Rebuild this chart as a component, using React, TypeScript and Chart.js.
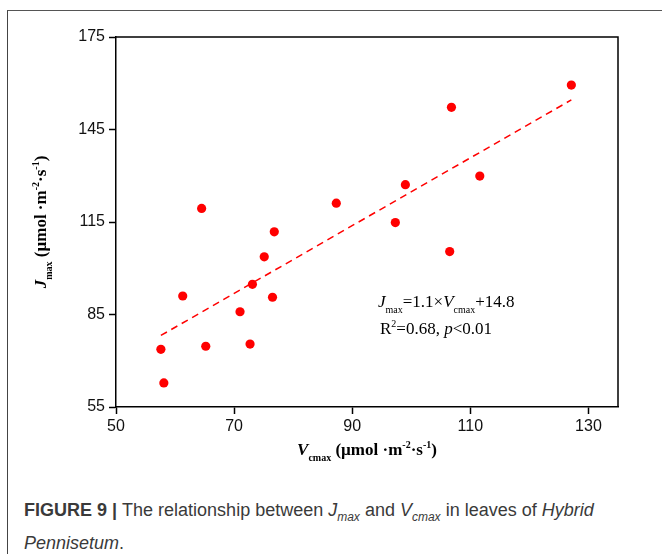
import React, { useEffect, useRef } from "react";
import { Chart, registerables } from "chart.js";
Chart.register(...registerables);

// Data
const vcmax = [57.6, 58.1, 61.3, 64.5, 65.2, 71.0, 72.7, 73.1, 75.1, 76.5, 76.8, 87.3, 97.3, 99.0, 106.5, 106.8, 111.6, 127.1];
const jmax = [73.7, 62.8, 91.0, 119.4, 74.7, 85.9, 75.4, 94.8, 103.7, 90.6, 111.8, 121.1, 114.8, 127.1, 105.4, 152.2, 129.9, 159.4];
const fitX = [57.6, 127.1];
const fitY = [78.2, 154.6];
const xTicks = [50, 70, 90, 110, 130];
const yTicks = [55, 85, 115, 145, 175];

type Seg = { t: string; it?: boolean; b?: boolean; sub?: boolean; sup?: boolean };

const SERIF = "'Liberation Serif', 'Times New Roman', serif";

function segFont(s: Seg, size: number) {
  const sz = s.sub || s.sup ? Math.round(size * 0.6) : size;
  return `${s.it ? "italic " : ""}${s.b ? "bold " : ""}${sz}px ${SERIF}`;
}

function drawRich(ctx: CanvasRenderingContext2D, segs: Seg[], x: number, y: number, size: number, align: "left" | "center") {
  ctx.save();
  ctx.textBaseline = "alphabetic";
  ctx.textAlign = "left";
  let total = 0;
  const widths = segs.map((s) => {
    ctx.font = segFont(s, size);
    const w = ctx.measureText(s.t).width;
    total += w;
    return w;
  });
  let cx = align === "center" ? x - total / 2 : x;
  segs.forEach((s, i) => {
    ctx.font = segFont(s, size);
    let dy = 0;
    if (s.sub) dy = size * 0.35;
    if (s.sup) dy = -size * 0.42;
    ctx.fillText(s.t, cx, y + dy);
    cx += widths[i];
  });
  ctx.restore();
}

const textPlugin = {
  id: "customText",
  afterDraw(chart: any) {
    const ctx: CanvasRenderingContext2D = chart.ctx;
    const a = chart.chartArea;
    ctx.save();
    // top and right frame
    ctx.strokeStyle = "#000";
    ctx.lineWidth = 1.5;
    ctx.beginPath();
    ctx.moveTo(a.left, a.top);
    ctx.lineTo(a.right, a.top);
    ctx.lineTo(a.right, a.bottom);
    ctx.stroke();
    ctx.fillStyle = "#000";
    // x title
    drawRich(
      ctx,
      [
        { t: "V", it: true, b: true },
        { t: "cmax", b: true, sub: true },
        { t: " (µmol ·m", b: true },
        { t: "-2", b: true, sup: true },
        { t: "·s", b: true },
        { t: "-1", b: true, sup: true },
        { t: ")", b: true },
      ],
      (a.left + a.right) / 2,
      444,
      17,
      "center"
    );
    // y title
    ctx.save();
    ctx.translate(38, (a.top + a.bottom) / 2);
    ctx.rotate(-Math.PI / 2);
    drawRich(
      ctx,
      [
        { t: "J", it: true, b: true },
        { t: "max", b: true, sub: true },
        { t: " (µmol ·m", b: true },
        { t: "-2", b: true, sup: true },
        { t: "·s", b: true },
        { t: "-1", b: true, sup: true },
        { t: ")", b: true },
      ],
      0,
      0,
      17,
      "center"
    );
    ctx.restore();
    // equation
    drawRich(
      ctx,
      [
        { t: "J", it: true },
        { t: "max", sub: true },
        { t: "=1.1×" },
        { t: "V", it: true },
        { t: "cmax", sub: true },
        { t: "+14.8" },
      ],
      370,
      296,
      17,
      "left"
    );
    drawRich(
      ctx,
      [
        { t: "R" },
        { t: "2", sup: true },
        { t: "=0.68, " },
        { t: "p", it: true },
        { t: "<0.01" },
      ],
      372,
      323,
      17,
      "left"
    );
    ctx.restore();
  },
};

function ChartCanvas() {
  const ref = useRef<HTMLCanvasElement | null>(null);
  useEffect(() => {
    document.documentElement.style.overflow = "hidden";
    document.body.style.overflow = "hidden";
    const canvas = ref.current;
    if (!canvas) return;
    const points = vcmax.map((v, i) => ({ x: v, y: jmax[i] }));
    const fit = fitX.map((v, i) => ({ x: v, y: fitY[i] }));
    const tickFont = { family: "'Liberation Sans', Arial, sans-serif", size: 16 };
    const chart = new Chart(canvas, {
      type: "scatter",
      data: {
        datasets: [
          {
            type: "line",
            data: fit,
            borderColor: "#ff0000",
            borderWidth: 1.5,
            borderDash: [7, 5],
            pointRadius: 0,
            fill: false,
            order: 2,
          } as any,
          {
            type: "scatter",
            data: points,
            backgroundColor: "#ff0000",
            borderWidth: 0,
            pointRadius: 4.6,
            order: 1,
          },
        ],
      },
      options: {
        responsive: false,
        animation: false,
        events: [],
        layout: { padding: { left: 0, top: 26, right: 44, bottom: 0 } },
        plugins: { legend: { display: false }, tooltip: { enabled: false } },
        scales: {
          x: {
            type: "linear",
            min: 50,
            max: 135,
            afterBuildTicks: (s: any) => {
              s.ticks = xTicks.map((v) => ({ value: v }));
            },
            afterFit: (s: any) => {
              s.height = 64;
            },
            grid: { display: true, drawOnChartArea: false, drawTicks: true, tickLength: 7, color: "#000", tickWidth: 1.5 },
            border: { display: true, color: "#000", width: 1.5 },
            ticks: { color: "#111", font: tickFont, padding: 3, maxRotation: 0 },
          },
          y: {
            type: "linear",
            min: 55,
            max: 175,
            afterBuildTicks: (s: any) => {
              s.ticks = yTicks.map((v) => ({ value: v }));
            },
            afterFit: (s: any) => {
              s.width = 108;
            },
            grid: { display: true, drawOnChartArea: false, drawTicks: true, tickLength: 7, color: "#000", tickWidth: 1.5 },
            border: { display: true, color: "#000", width: 1.5 },
            ticks: { color: "#111", font: tickFont, padding: 4 },
          },
        },
      },
      plugins: [textPlugin],
    } as any);
    return () => chart.destroy();
  }, []);
  return <canvas ref={ref} width={654} height={460} style={{ display: "block" }} />;
}

export default function App() {
  const capStyle: React.CSSProperties = {
    position: "absolute",
    left: 16,
    top: 486,
    fontFamily: "'Liberation Sans', Arial, sans-serif",
    fontSize: 18,
    lineHeight: "26px",
    color: "#3a3a3a",
    whiteSpace: "nowrap",
  };
  return (
    <div
      style={{
        position: "absolute",
        left: 7,
        top: 10,
        boxSizing: "content-box",
        borderTop: "1px solid #555",
        borderLeft: "1px solid #444",
        width: 654,
        height: 543,
        overflow: "hidden",
        background: "#fff",
      }}
    >
      <ChartCanvas />
      <div style={capStyle}>
        <b>FIGURE 9 | </b>The relationship between <i>J</i>
        <sub style={{ fontSize: 12 }}>
          <i>max</i>
        </sub>{" "}
        and <i>V</i>
        <sub style={{ fontSize: 12 }}>
          <i>cmax</i>
        </sub>{" "}
        in leaves of <i>Hybrid</i>
        <br />
        <i>Pennisetum</i>.
      </div>
    </div>
  );
}
